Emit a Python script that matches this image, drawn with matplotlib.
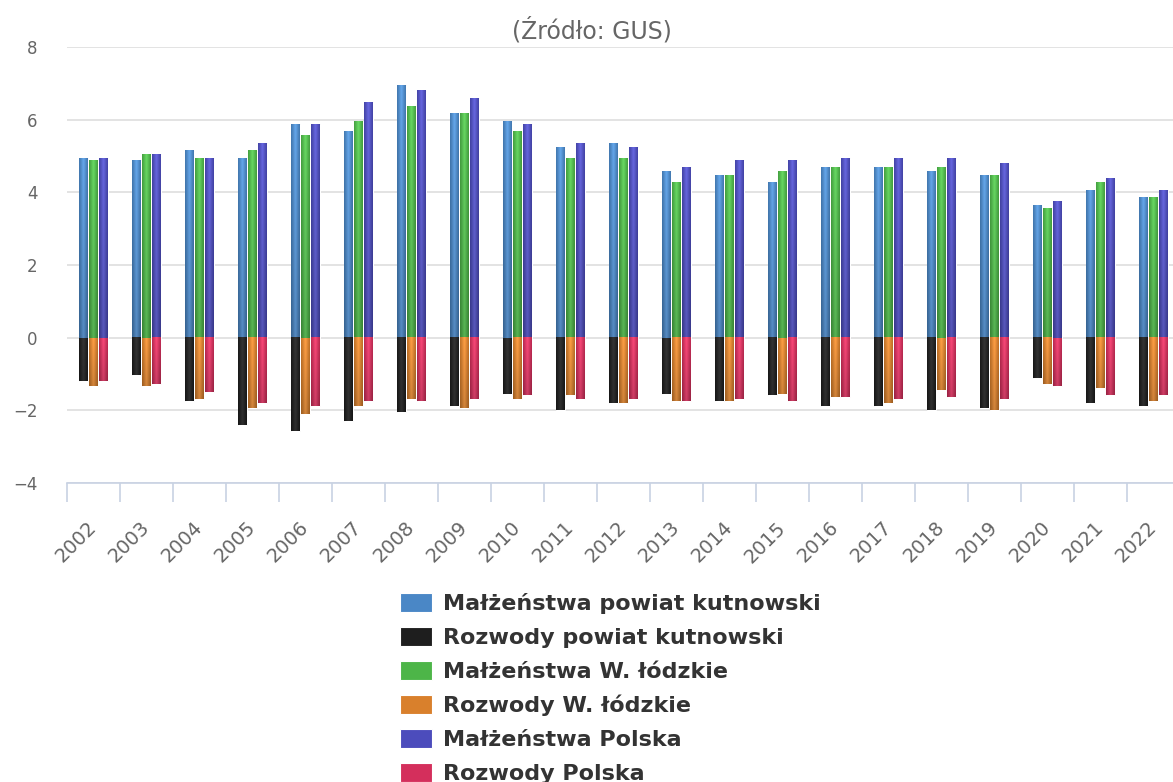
import numpy as np
import matplotlib
matplotlib.use("Agg")
import matplotlib.pyplot as plt
import matplotlib.colors as mcolors

# Data
# ------------------------------------------------------------------------------
years = [str(y) for y in range(2002, 2023)]

malz_kutno = [4.94, 4.89, 5.15, 4.94, 5.87, 5.67, 6.95, 6.19, 5.97, 5.25, 5.35,
              4.58, 4.48, 4.27, 4.69, 4.69, 4.58, 4.48, 3.66, 4.06, 3.86]
rozw_kutno = [-1.18, -1.02, -1.74, -2.40, -2.56, -2.29, -2.05, -1.89, -1.54, -2.00, -1.79,
              -1.54, -1.74, -1.58, -1.89, -1.89, -2.00, -1.94, -1.12, -1.79, -1.89]
malz_lodz = [4.89, 5.05, 4.94, 5.15, 5.56, 5.97, 6.38, 6.19, 5.67, 4.94, 4.94,
             4.27, 4.48, 4.58, 4.69, 4.69, 4.69, 4.48, 3.56, 4.27, 3.86]
rozw_lodz = [-1.32, -1.32, -1.69, -1.94, -2.09, -1.89, -1.69, -1.94, -1.69, -1.58, -1.79,
             -1.74, -1.74, -1.54, -1.64, -1.79, -1.43, -2.00, -1.28, -1.38, -1.74]
malz_pl = [4.94, 5.05, 4.94, 5.35, 5.87, 6.49, 6.80, 6.59, 5.87, 5.35, 5.25,
           4.69, 4.89, 4.89, 4.94, 4.94, 4.94, 4.79, 3.76, 4.38, 4.06]
rozw_pl = [-1.18, -1.28, -1.49, -1.79, -1.89, -1.74, -1.74, -1.69, -1.58, -1.69, -1.69,
           -1.74, -1.69, -1.74, -1.64, -1.69, -1.64, -1.69, -1.32, -1.58, -1.58]

series = [
    ("Małżeństwa powiat kutnowski", malz_kutno, "#4a87c6", -1),
    ("Rozwody powiat kutnowski", rozw_kutno, "#1e1e1e", -1),
    ("Małżeństwa W. łódzkie", malz_lodz, "#4db548", 0),
    ("Rozwody W. łódzkie", rozw_lodz, "#d9802c", 0),
    ("Małżeństwa Polska", malz_pl, "#4c4cbc", 1),
    ("Rozwody Polska", rozw_pl, "#d42f5c", 1),
]

GRAY = "#666666"
FONT = "DejaVu Sans"


def shade_bar(ax, rect, color):
    # fake the glossy look: lighter in the middle, darker at the bottom
    bb = rect.get_bbox()
    x0, x1 = min(bb.x0, bb.x1), max(bb.x0, bb.x1)
    y0, y1 = min(bb.y0, bb.y1), max(bb.y0, bb.y1)
    base = np.array(mcolors.to_rgb(color))
    t = np.linspace(-1, 1, 24)
    hor = 0.84 + 0.28 * (1 - np.abs(t)) ** 1.2
    ver = np.linspace(1.06, 0.86, 32)
    img = base[None, None, :] * hor[None, :, None] * ver[:, None, None]
    img = img + (1 - img) * 0.08 * (1 - np.abs(t))[None, :, None]
    img = np.clip(img, 0, 1)
    ax.imshow(img, extent=(x0, x1, y0, y1), origin="upper", aspect="auto",
              interpolation="bilinear", zorder=3)


fig = plt.figure(figsize=(11.73, 7.82), dpi=100)
ax = fig.add_axes([67 / 1173, 1 - 483 / 782, 1113 / 1173, 436 / 782])

x = np.arange(len(years))
step = 0.19
width = 0.155
handles = []
for label, vals, color, slot in series:
    bars = ax.bar(x + slot * step, vals, width, color=color, edgecolor="white",
                  linewidth=0.8, label=label, zorder=2)
    handles.append(bars)
    for r in bars:
        shade_bar(ax, r, color)

ax.set_xlim(-0.5, len(years) - 0.5)
ax.set_ylim(-4, 8)
ax.set_yticks([-4, -2, 0, 2, 4, 6, 8])
ax.yaxis.grid(True, color="#dedede", linewidth=1.2, zorder=0)
ax.set_axisbelow(True)

# tick marks between categories, labels at category centres
ax.set_xticks(np.arange(-0.5, len(years) + 0.5, 1.0))
ax.set_xticklabels([])
ax.set_xticks(x, minor=True)
ax.set_xticklabels(years, minor=True, rotation=45, ha="right",
                   rotation_mode="anchor", va="center",
                   fontsize=14, color=GRAY, fontfamily=FONT)
ax.tick_params(axis="x", which="major", length=14, width=1.2, color="#c8d2e3")
ax.tick_params(axis="x", which="minor", length=0, pad=30)
ax.tick_params(axis="y", length=0, pad=21, labelsize=12, labelcolor=GRAY)
for lab in ax.get_yticklabels():
    lab.set_fontfamily(FONT)

for side in ["top", "right", "left"]:
    ax.spines[side].set_visible(False)
ax.spines["bottom"].set_color("#c8d2e3")
ax.spines["bottom"].set_linewidth(1.2)

fig.text(592 / 1173, 1 - 30 / 782, "(Źródło: GUS)", ha="center", va="center",
         fontsize=17, color=GRAY, fontfamily=FONT)

leg = fig.legend(handles=handles, loc="upper left",
                 bbox_to_anchor=(391 / 1173, 1 - 584 / 782),
                 borderaxespad=0, frameon=False, ncol=1,
                 handlelength=1.44, handleheight=0.95,
                 handletextpad=0.5, labelspacing=0.57,
                 prop={"family": FONT, "weight": "bold", "size": 16})
for t in leg.get_texts():
    t.set_color("#333333")

fig.savefig("out.png", dpi=100)
